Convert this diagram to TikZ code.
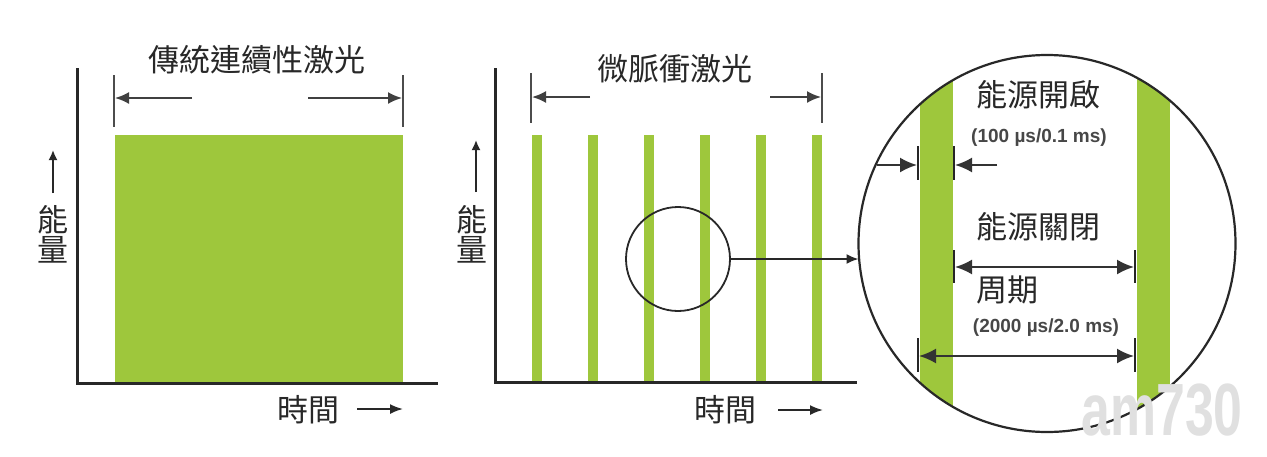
\documentclass[tikz,border=0pt]{standalone}
\usepackage{fontspec}
\newfontfamily\cjk{Noto Sans CJK TC}
\newfontfamily\lab{Liberation Sans Bold}
\newfontfamily\wmfont[FakeStretch=0.7]{Liberation Sans Bold}
\usetikzlibrary{arrows.meta}
\definecolor{lgreen}{RGB}{158,199,60}
\definecolor{ink}{RGB}{40,40,40}
\begin{document}
\begin{tikzpicture}[x=1pt,y=-1pt,
  cjkt/.style={font=\cjk\fontsize{31}{30}\selectfont, text=ink, inner sep=0pt},
  labt/.style={font=\lab\fontsize{19}{19}\selectfont, text=black!72, inner sep=0pt},
  axisline/.style={line width=3pt, draw=ink},
  brk/.style={line width=2pt, draw=black!70},
  tipline/.style={line width=2pt, draw=black!75, -{Latex[length=14pt,width=12pt]}},
  bigtip/.style={line width=2pt, draw=black!80, -{Latex[length=17pt,width=15pt]}},
  dbltip/.style={line width=2pt, draw=black!80, {Latex[length=17pt,width=15pt]}-{Latex[length=17pt,width=15pt]}},
  timetip/.style={line width=1.8pt, draw=ink, -{Latex[length=13pt,width=10pt]}},
  uptip/.style={line width=1.8pt, draw=ink, -{Latex[length=10pt,width=9pt]}},
  bar/.style={fill=lgreen, draw=none},
  ring/.style={circle, draw=ink, inner sep=0pt, outer sep=0pt}
]
\useasboundingbox (0,0) rectangle (1267,456);
\fill[white] (0,0) rectangle (1267,456);

% ===== Left panel =====
\fill[bar] (115,135) rectangle (403,382);
\draw[axisline] (77,68) -- (77,383) -- (438,383);
\node[cjkt] (t1) at (257,60) {傳統連續性激光};
\draw[brk] (114,75) -- (114,127);
\draw[brk] (403,75) -- (403,127);
\coordinate (l1s) at (192,98); \coordinate (l1e) at (115,98);
\coordinate (r1s) at (308,98); \coordinate (r1e) at (402,98);
\draw[tipline] (l1s) -- (l1e);
\draw[tipline] (r1s) -- (r1e);
\node[cjkt, align=center] (e1) at (53,234) {能\\量};
\coordinate (u1s) at (53,193); \coordinate (u1e) at (53,150);
\draw[uptip] (u1s) -- (u1e);
\node[cjkt] (h1) at (308,410) {時間};
\coordinate (a1s) at (357,409); \coordinate (a1e) at (403,409);
\draw[timetip] (a1s) -- (a1e);

% ===== Middle panel =====
\foreach \i in {0,...,5} {
  \fill[bar] ({531.7+\i*56.1},135) rectangle ({541.7+\i*56.1},382);
}
\draw[axisline] (495,68) -- (495,382) -- (857,382);
\node[cjkt] (t2) at (675,69) {微脈衝激光};
\draw[brk] (531,73) -- (531,123);
\draw[brk] (822,73) -- (822,123);
\coordinate (l2s) at (590,97); \coordinate (l2e) at (532,97);
\coordinate (r2s) at (770,97); \coordinate (r2e) at (821,97);
\draw[tipline] (l2s) -- (l2e);
\draw[tipline] (r2s) -- (r2e);
\node[cjkt, align=center] (e2) at (472,234) {能\\量};
\coordinate (u2s) at (476,192); \coordinate (u2e) at (476,140);
\draw[uptip] (u2s) -- (u2e);
\node[cjkt] (h2) at (725,410) {時間};
\coordinate (a2s) at (778,410); \coordinate (a2e) at (823,410);
\draw[timetip] (a2s) -- (a2e);

\node[ring, line width=1.8pt, minimum size=104pt] (zc) at (678,259) {};

% ===== Magnified circle =====
\begin{scope}
  \clip (1047,243.5) circle (188.5pt);
  \fill[bar] (920,40) rectangle (953,450);
  \fill[bar] (1137,40) rectangle (1170,450);
\end{scope}
\node[ring, line width=2.2pt, minimum size=377pt] (bc) at (1047,243.5) {};

\draw[line width=1.8pt, draw=ink, -{Latex[length=12pt,width=10pt]}] (zc.east) -- (zc.east -| bc.west);

\node[cjkt] (on) at (1038,95) {能源開啟};
\node[labt] (onv) at (1039,138) {(100 µs/0.1 ms)};
\draw[brk, draw=black!85] (918,146) -- (918,180);
\draw[brk, draw=black!85] (954,146) -- (954,180);
\coordinate (o1s) at (877,165); \coordinate (o1e) at (917,165);
\coordinate (o2s) at (997,165); \coordinate (o2e) at (955,165);
\draw[bigtip] (o1s) -- (o1e);
\draw[bigtip] (o2s) -- (o2e);

\node[cjkt] (off) at (1038,227) {能源關閉};
\draw[brk, draw=black!85] (954,250) -- (954,283);
\draw[brk, draw=black!85] (1135,250) -- (1135,283);
\coordinate (f1) at (955,267); \coordinate (f2) at (1134,267);
\draw[dbltip] (f1) -- (f2);

\node[cjkt] (per) at (1007,290) {周期};
\node[labt] (perv) at (1046,328) {(2000 µs/2.0 ms)};
\draw[brk, draw=black!85] (918,338) -- (918,372);
\draw[brk, draw=black!85] (1135,338) -- (1135,372);
\coordinate (p1) at (919,356); \coordinate (p2) at (1134,356);
\draw[dbltip] (p1) -- (p2);

% ===== Watermark =====
\node[font=\wmfont\fontsize{74}{74}\selectfont, text=black!12, inner sep=0pt] (wm) at (1162,410) {am730};
\end{tikzpicture}
\end{document}
